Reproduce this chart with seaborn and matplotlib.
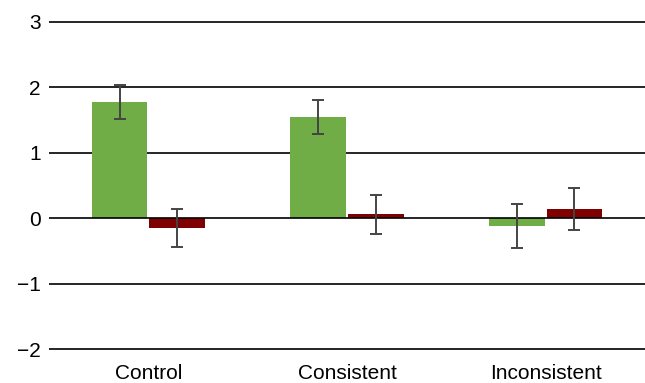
import numpy as np
import pandas as pd
import matplotlib
matplotlib.use('Agg')
import matplotlib.pyplot as plt
import seaborn as sns

# Data
conditions = ['Control', 'Consistent', 'Inconsistent']
groups = ['A', 'B']
means_a = [1.78, 1.55, -0.12]
means_b = [-0.15, 0.06, 0.14]
errs_a = [0.26, 0.26, 0.34]
errs_b = [0.29, 0.30, 0.32]
yticks = [-2, -1, 0, 1, 2, 3]
ytick_labels = ['\u22122', '\u22121', '0', '1', '2', '3']

df = pd.DataFrame({
    'condition': conditions * 2,
    'group': [groups[0]] * 3 + [groups[1]] * 3,
    'value': means_a + means_b,
    'err': errs_a + errs_b,
})

sns.set_theme(style='white')
plt.rcParams['font.family'] = ['Liberation Sans', 'DejaVu Sans']

fig = plt.figure(figsize=(6.45, 3.83), dpi=100)
ax = fig.add_axes([0.076, 0.0888 - 0.002, 0.924, 0.8538 + 0.004])

sns.barplot(data=df, x='condition', y='value', hue='group', order=conditions,
            hue_order=groups, palette=['#70ad47', '#7f0000'], width=0.58,
            gap=0.035, errorbar=None, saturation=1, legend=False, ax=ax,
            linewidth=0, zorder=2)

# error bars at bar centres
for container, errs in zip(ax.containers, [errs_a, errs_b]):
    for patch, e in zip(container.patches, errs):
        xc = patch.get_x() + patch.get_width() / 2
        yv = patch.get_height()
        ax.errorbar(xc, yv, yerr=e, color='#444444', elinewidth=1.4,
                    capsize=4, capthick=1.4, zorder=4)

ax.set_xlim(-0.5, 2.5)
ax.set_ylim(-2.01, 3.01)
ax.set_yticks(yticks)
ax.set_yticklabels(ytick_labels)
for y in yticks:
    ax.axhline(y, color='black', lw=1.2, zorder=3 if y == 0 else 1)
for s in ax.spines.values():
    s.set_visible(False)
ax.tick_params(axis='both', length=0, labelsize=15, colors='black')
ax.tick_params(axis='y', pad=6)
ax.tick_params(axis='x', pad=10)
ax.set_xlabel('')
ax.set_ylabel('')

fig.savefig('out.png', dpi=100)
